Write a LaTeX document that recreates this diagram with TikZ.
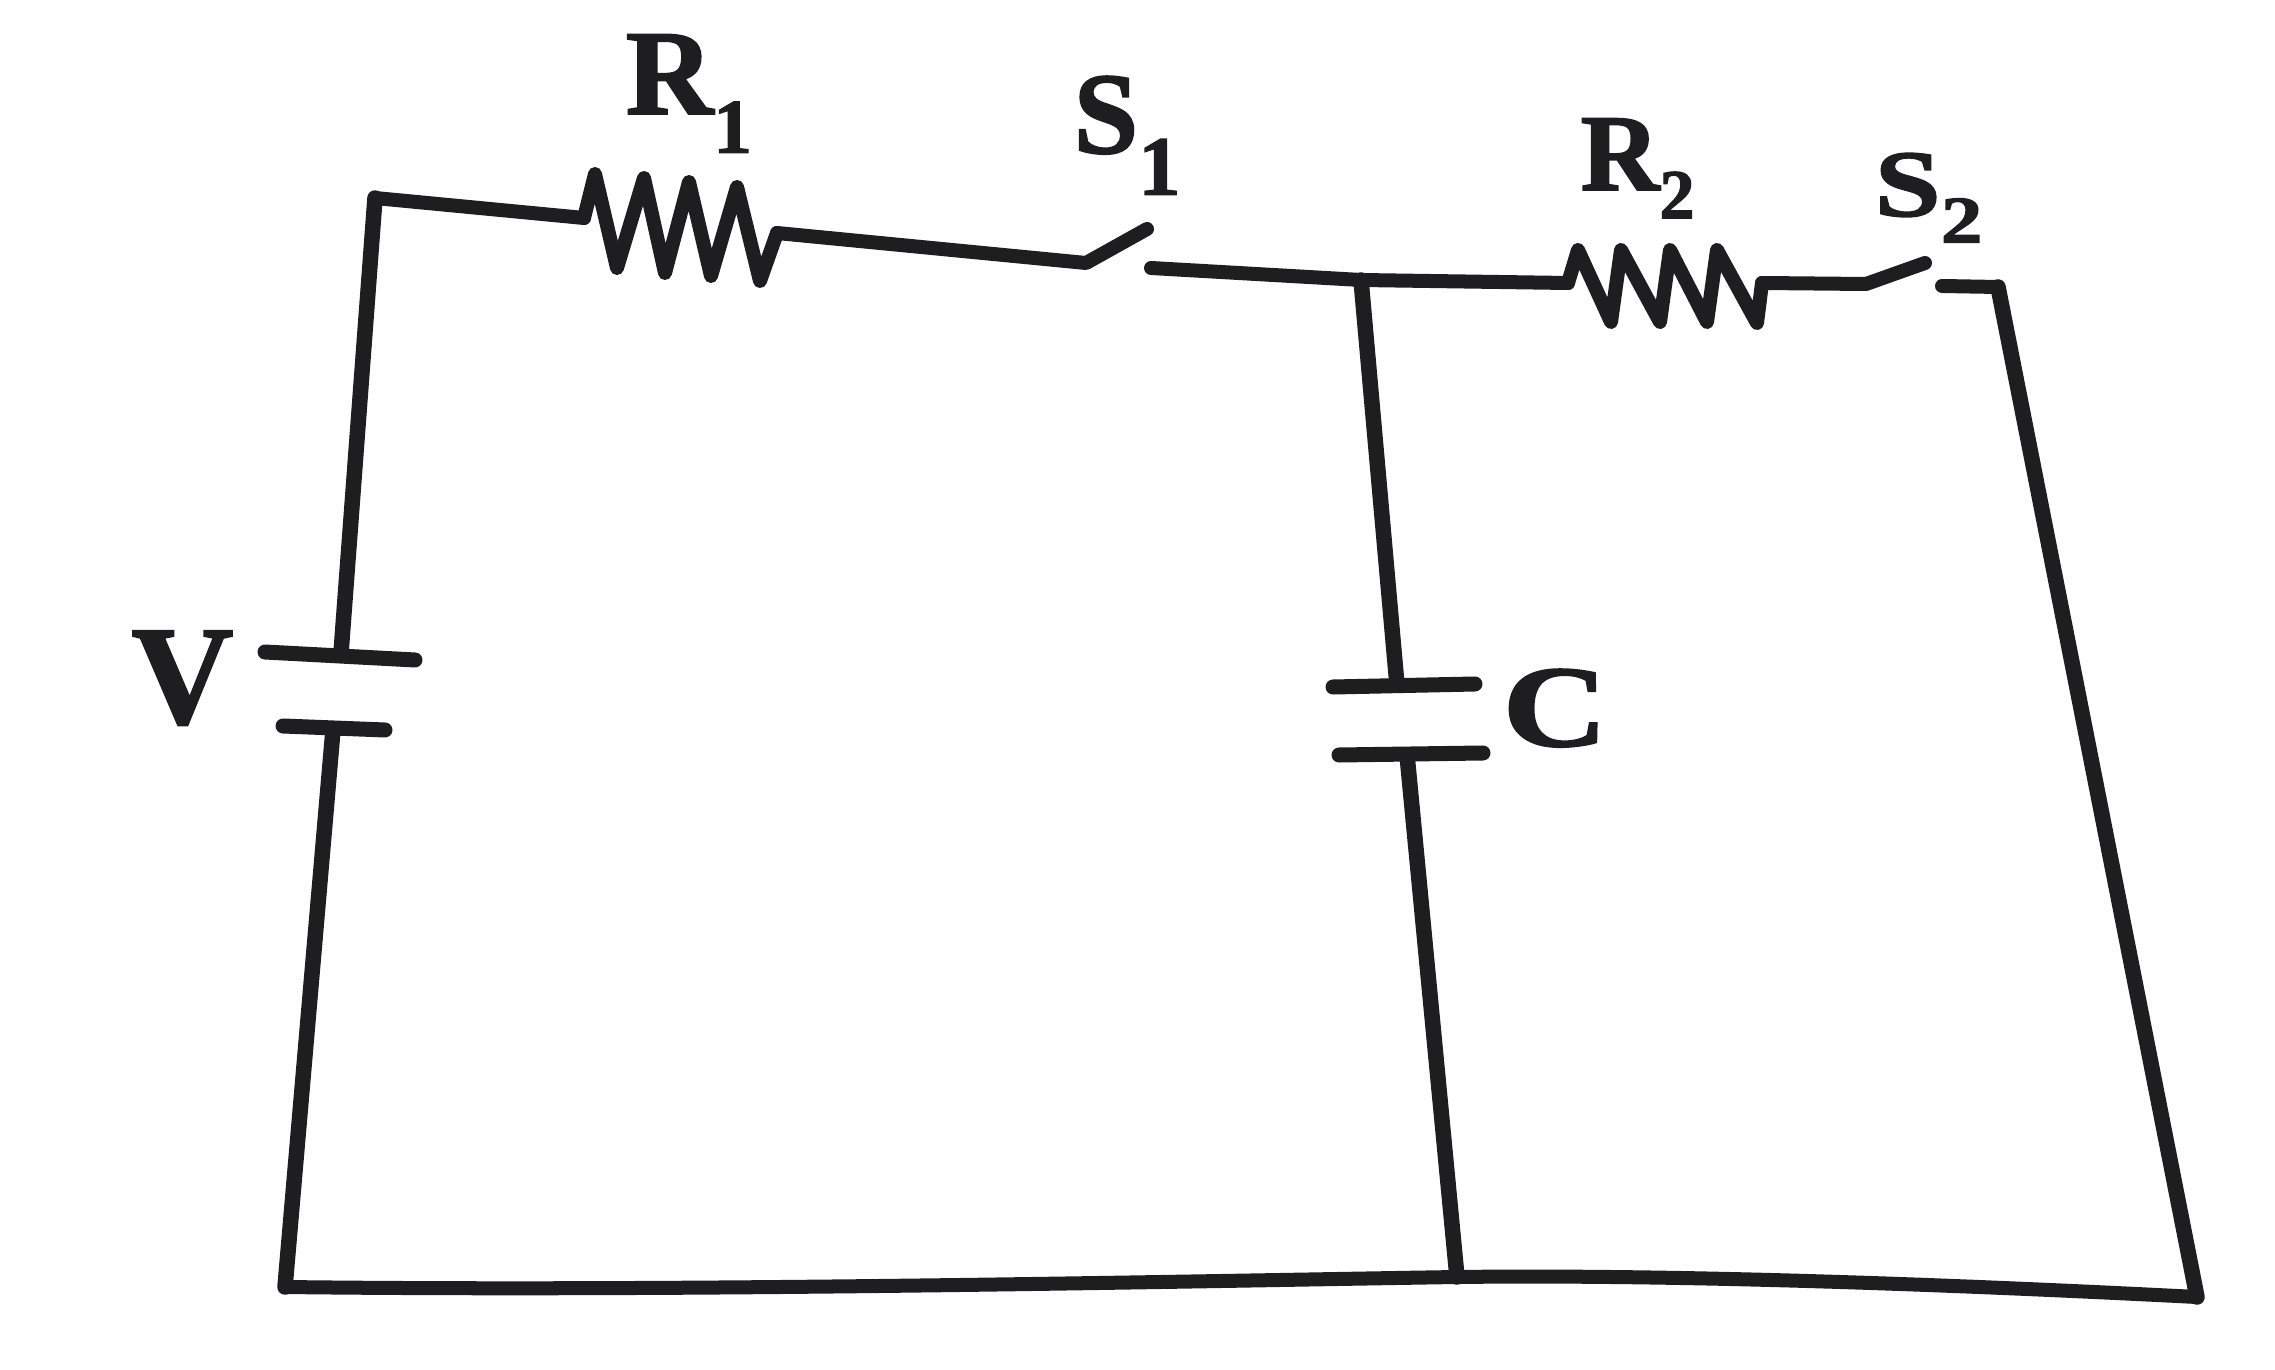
\documentclass[tikz,border=0pt]{standalone}
\usepackage{fontspec}
\usepackage{graphicx}
\setmainfont{Liberation Serif}[BoldFeatures={FakeBold=1.6}]
\definecolor{ink}{HTML}{1E1E20}
\tikzset{
  wire/.style={draw=ink,line width=0.14cm,line cap=round,line join=round},
  thick wire/.style={wire,line width=0.155cm},
  plate/.style={wire,line width=0.15cm},
  label text/.style={inner sep=0pt,text=ink,anchor=base west},
}
\begin{document}
\begin{tikzpicture}[x=0.01cm,y=-0.01cm]
\useasboundingbox (0,0) rectangle (2275,1370);
% corners and junctions
\coordinate (tl) at (375,198);
\coordinate (bl) at (285,1287);
\coordinate (bm) at (1457,1277);
\coordinate (br) at (2197,1297);
\coordinate (tr) at (1998,287);
\coordinate (jn) at (1361,280);
% battery
\coordinate (batA) at (341,653);
\coordinate (batB) at (333,730);
\coordinate (pa1) at (265,652);
\coordinate (pa2) at (415,660);
\coordinate (pb1) at (283,726);
\coordinate (pb2) at (385,730);
% capacitor
\coordinate (capA) at (1397,685);
\coordinate (capB) at (1407,755);
\coordinate (pc1) at (1333,687);
\coordinate (pc2) at (1475,684);
\coordinate (pd1) at (1339,755);
\coordinate (pd2) at (1483,753);
% switches
\coordinate (s1a) at (1086,263);
\coordinate (s1b) at (1147,229);
\coordinate (s1c) at (1151,268);
\coordinate (s2a) at (1866,284);
\coordinate (s2b) at (1925,263);
\coordinate (s2c) at (1942,286);
% resistors ends
\coordinate (r1a) at (584,218);
\coordinate (r1b) at (777,233);
\coordinate (r2a) at (1568,283);
\coordinate (r2b) at (1762,283);

% outer wires
\draw[wire] (r1a) -- (tl);
\draw[thick wire] (tl) -- (batA);
\draw[thick wire] (batB) -- (bl);
\draw[wire] (bl) .. controls (700,1292) and (1200,1281) .. (bm) .. controls (1700,1274) and (2000,1287) .. (br);
\draw[thick wire] (br) -- (tr);
\draw[wire] (tr) -- (s2c);
% top wires and switches
\draw[wire] (r1b) -- (s1a) -- (s1b);
\draw[wire] (s1c) -- (jn) -- (r2a);
\draw[wire] (r2b) -- (s2a) -- (s2b);
% resistors
\draw[wire] (r1a) -- (595,174) -- (617,268) -- (644,178) -- (665,273) -- (689,182) -- (711,276) -- (737,187) -- (760,281) -- (r1b);
\draw[wire] (r2a) -- (1578,250) -- (1611,322) -- (1621,250) -- (1660,322) -- (1670,250) -- (1707,322) -- (1717,250) -- (1757,323) -- (r2b);
% capacitor branch
\draw[thick wire] (jn) -- (capA);
\draw[thick wire] (capB) -- (bm);
\draw[plate] (pc1) -- (pc2);
\draw[plate] (pd1) -- (pd2);
% battery plates
\draw[plate] (pa1) -- (pa2);
\draw[plate] (pb1) -- (pb2);
% labels
\node[label text] (lR1) at (625,114) {\fontsize{34.5}{36}\selectfont\bfseries R\raisebox{-0.32em}{\fontsize{22}{22}\selectfont 1}};
\node[label text] (lS1) at (1073,153) {\fontsize{33}{34}\selectfont\bfseries S\raisebox{-0.36em}{\fontsize{24}{24}\selectfont 1}};
\node[label text] (lR2) at (1580,190) {\fontsize{31}{33}\selectfont\bfseries R\raisebox{-0.26em}{\fontsize{20}{20}\selectfont 2}};
\node[label text] (lS2) at (1874,216) {\scalebox{1.25}[1]{\fontsize{27}{28}\selectfont\bfseries S\raisebox{-0.28em}{\fontsize{19}{19}\selectfont 2}}};
\node[label text] (lV) at (131,723) {\fontsize{40}{41}\selectfont\bfseries V};
\node[label text] (lC) at (1502,746) {\scalebox{1.25}[1]{\fontsize{33}{34}\selectfont\bfseries C}};
\end{tikzpicture}
\end{document}
